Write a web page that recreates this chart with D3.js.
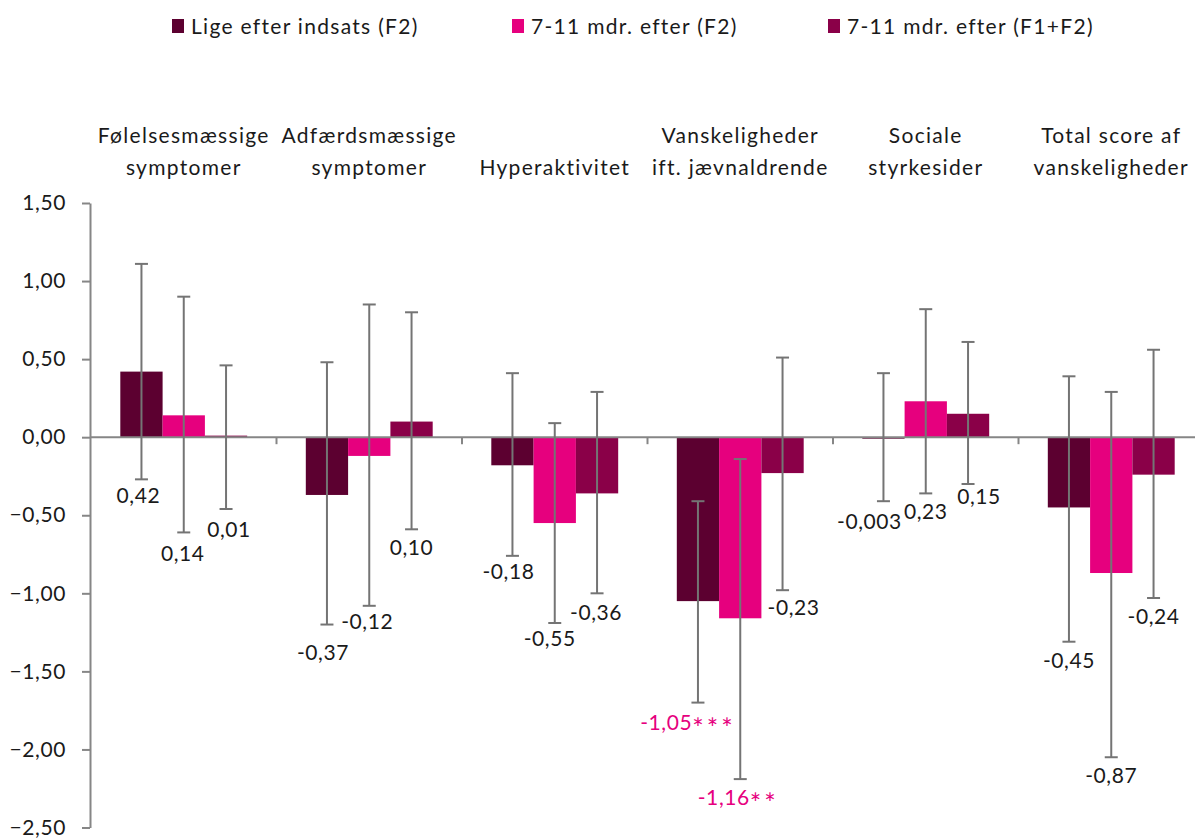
<!DOCTYPE html>
<html>
<head>
<meta charset="utf-8">
<script src="https://cdn.jsdelivr.net/npm/d3@7"></script>
<style>
  body { margin: 0; background: #fff; }
  text { font-family: Lato, "Open Sans", sans-serif; fill: #1a1a1a; }
</style>
</head>
<body>
<script>
// data
const categories = [
  ["Følelsesmæssige", "symptomer"],
  ["Adfærdsmæssige", "symptomer"],
  ["Hyperaktivitet"],
  ["Vanskeligheder", "ift. jævnaldrende"],
  ["Sociale", "styrkesider"],
  ["Total score af", "vanskeligheder"]
];
const seriesNames = ["Lige efter indsats (F2)", "7-11 mdr. efter (F2)", "7-11 mdr. efter (F1+F2)"];
const seriesColors = ["#5c0030", "#e6007e", "#8a0048"];

const valsF2now = [0.42, -0.37, -0.18, -1.05, -0.003, -0.45];
const valsF2later = [0.14, -0.12, -0.55, -1.16, 0.23, -0.87];
const valsF1F2later = [0.01, 0.10, -0.36, -0.23, 0.15, -0.24];

const lowF2now = [-0.27, -1.20, -0.76, -1.70, -0.41, -1.31];
const highF2now = [1.11, 0.48, 0.41, -0.41, 0.41, 0.39];
const lowF2later = [-0.61, -1.08, -1.19, -2.19, -0.36, -2.05];
const highF2later = [0.90, 0.85, 0.09, -0.14, 0.82, 0.29];
const lowF1F2later = [-0.46, -0.59, -1.00, -0.98, -0.30, -1.03];
const highF1F2later = [0.46, 0.80, 0.29, 0.51, 0.61, 0.56];

const labelsF2now = ["0,42", "-0,37", "-0,18", "-1,05", "-0,003", "-0,45"];
const labelsF2later = ["0,14", "-0,12", "-0,55", "-1,16", "0,23", "-0,87"];
const labelsF1F2later = ["0,01", "0,10", "-0,36", "-0,23", "0,15", "-0,24"];
// significance stars; significant results are printed in pink
const starsF2now = ["", "", "", "***", "", ""];
const starsF2later = ["", "", "", "**", "", ""];
const starsF1F2later = ["", "", "", "", "", ""];

const yTicks = [1.5, 1.0, 0.5, 0, -0.5, -1.0, -1.5, -2.0, -2.5];

const values = [valsF2now, valsF2later, valsF1F2later];
const lows = [lowF2now, lowF2later, lowF1F2later];
const highs = [highF2now, highF2later, highF1F2later];
const labels = [labelsF2now, labelsF2later, labelsF1F2later];
const stars = [starsF2now, starsF2later, starsF1F2later];

// small manual nudges of the value labels, like the hand-placed ones in the original
const labelShift = {
  "0-0": [-3, -2], "0-1": [-1, 3], "0-2": [3, 2],
  "1-0": [-4, 9], "1-1": [-2, -3],
  "2-0": [-4, -3], "2-1": [-5, -3], "2-2": [-1, 1],
  "3-0": [-10, 1], "3-1": [-2, 0], "3-2": [11, -1],
  "4-0": [-14, 2], "4-2": [11, -6]
};

const W = 1195, H = 839;
const svg = d3.select("body").append("svg")
  .attr("width", W)
  .attr("height", H);

const y = d3.scaleLinear().domain([-2.5, 1.5]).range([827.5, 203]);
const x0 = d3.scaleBand().domain(d3.range(categories.length)).range([91, 1204]);
const gap = x0.bandwidth() * 0.158;
const x1 = d3.scaleBand().domain(d3.range(seriesNames.length)).range([gap, x0.bandwidth() - gap]);

const fmt = d => d3.format(".2f")(d).replace(".", ",");

// legend
const legendX = [172, 512, 828];
const legend = svg.append("g");
seriesNames.forEach((name, i) => {
  legend.append("rect")
    .attr("x", legendX[i]).attr("y", 19)
    .attr("width", 12).attr("height", 14)
    .attr("fill", seriesColors[i]);
  legend.append("text")
    .attr("x", legendX[i] + 19).attr("y", 34)
    .attr("font-size", 21)
    .attr("letter-spacing", 1.3)
    .text(name);
});

// category titles above the plot
categories.forEach((lines, i) => {
  const cx = x0(i) + x0.bandwidth() / 2;
  const t = svg.append("text")
    .attr("text-anchor", "middle")
    .attr("font-size", 21)
    .attr("letter-spacing", 1.3);
  const startY = lines.length === 1 ? 175 : 143;
  lines.forEach((l, k) => {
    t.append("tspan").attr("x", cx).attr("y", startY + k * 32).text(l);
  });
});

// y axis
const yAxis = svg.append("g")
  .attr("transform", "translate(90,0)")
  .call(d3.axisLeft(y).tickValues(yTicks).tickSize(8).tickSizeOuter(0).tickFormat(fmt));
yAxis.select(".domain").attr("stroke", "#868686").attr("stroke-width", 2);
yAxis.selectAll(".tick line").attr("stroke", "#868686").attr("stroke-width", 2);
yAxis.selectAll(".tick text")
  .attr("x", -24)
  .attr("font-size", 21)
  .attr("letter-spacing", 0.6)
  .attr("font-family", "Lato, sans-serif")
  .attr("fill", "#1a1a1a");

// bars
const barData = [];
values.forEach((vals, s) => {
  vals.forEach((v, c) => {
    barData.push({ s: s, c: c, v: v, lo: lows[s][c], hi: highs[s][c], label: labels[s][c], star: stars[s][c] });
  });
});

svg.append("g").selectAll("rect")
  .data(barData)
  .enter().append("rect")
  .attr("x", d => x0(d.c) + x1(d.s))
  .attr("width", x1.bandwidth())
  .attr("y", d => y(Math.max(0, d.v)))
  .attr("height", d => Math.max(Math.abs(y(d.v) - y(0)), 1.5))
  .attr("fill", d => seriesColors[d.s]);

// x axis line along zero with group separators
const xAxis = svg.append("g");
xAxis.append("line")
  .attr("x1", 90).attr("x2", W)
  .attr("y1", y(0)).attr("y2", y(0))
  .attr("stroke", "#868686").attr("stroke-width", 2);
xAxis.selectAll(".sep")
  .data(d3.range(1, categories.length))
  .enter().append("line")
  .attr("x1", d => x0(d)).attr("x2", d => x0(d))
  .attr("y1", y(0)).attr("y2", y(0) + 7)
  .attr("stroke", "#868686").attr("stroke-width", 2);

// error bars
const err = svg.append("g")
  .attr("stroke", "#747474")
  .attr("stroke-width", 2);
barData.forEach(d => {
  const cx = x0(d.c) + x1(d.s) + x1.bandwidth() / 2;
  err.append("line")
    .attr("x1", cx).attr("x2", cx)
    .attr("y1", y(d.hi)).attr("y2", y(d.lo));
  [d.hi, d.lo].forEach(e => {
    err.append("line")
      .attr("x1", cx - 6.5).attr("x2", cx + 6.5)
      .attr("y1", y(e)).attr("y2", y(e));
  });
});

// value labels under the error bars
const vl = svg.append("g").selectAll("text")
  .data(barData)
  .enter().append("text")
  .attr("text-anchor", "middle")
  .attr("font-size", 21)
  .attr("letter-spacing", 0.6)
  .attr("x", d => {
    const sh = labelShift[d.c + "-" + d.s] || [0, 0];
    return x0(d.c) + x1(d.s) + x1.bandwidth() / 2 + sh[0];
  })
  .attr("y", d => {
    const sh = labelShift[d.c + "-" + d.s] || [0, 0];
    return y(d.lo) + 26 + sh[1];
  })
  .style("fill", d => d.star ? "#e6007e" : "#1a1a1a");
vl.append("tspan").text(d => d.label);
vl.append("tspan")
  .attr("font-size", 27)
  .attr("letter-spacing", 3)
  .attr("dy", 8)
  .text(d => d.star);
vl.append("tspan").attr("dy", -8).text("");
</script>
</body>
</html>
